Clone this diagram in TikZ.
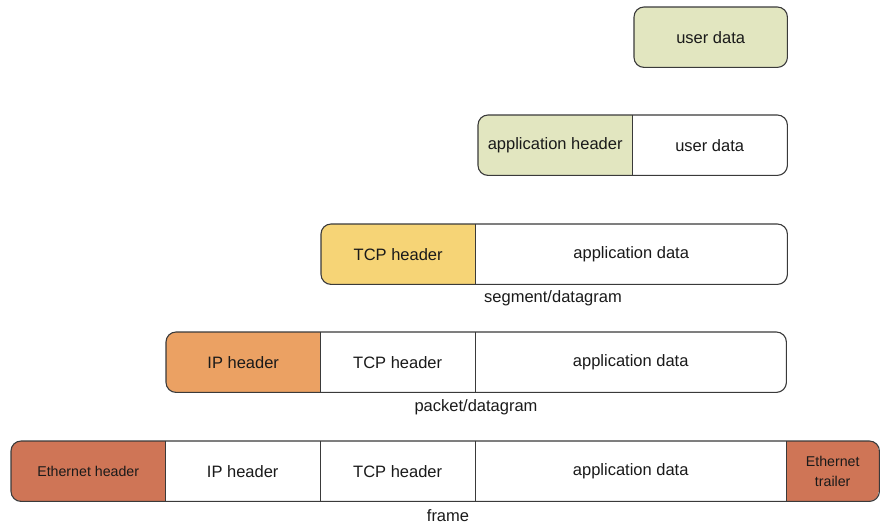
\documentclass[tikz,border=0pt]{standalone}
\usepackage{fontspec}
\setmainfont{Liberation Sans}
\definecolor{ugreen}{HTML}{E2E6C0}
\definecolor{tcpy}{HTML}{F6D476}
\definecolor{ipo}{HTML}{EBA163}
\definecolor{ethc}{HTML}{CF7556}
\definecolor{edge}{HTML}{3A3A3A}
\definecolor{txt}{HTML}{1A1A1A}
\begin{document}
\begin{tikzpicture}[x=1pt,y=-1pt,
  cell/.style={minimum height=60pt, inner sep=0pt, anchor=north west, text=txt,
    font=\fontsize{16.5}{19}\selectfont},
  small/.style={font=\fontsize{14.2}{20}\selectfont, align=center},
  outline/.style={draw=edge, line width=1.1pt, rounded corners=10pt},
  divider/.style={draw=edge, line width=1pt},
  caption/.style={text=txt, font=\fontsize{16.5}{19}\selectfont, inner sep=0pt}]
\useasboundingbox (0,0) rectangle (880,531);

% Row 1
\begin{scope}
\clip[rounded corners=10pt] (634,7) rectangle (787,67);
\node[cell, fill=ugreen, minimum width=153pt] (a1) at (634,7) {user data};
\end{scope}
\draw[outline] (a1.north west) rectangle (a1.south east);

% Row 2
\begin{scope}
\clip[rounded corners=10pt] (478,115) rectangle (787,175);
\node[cell, fill=ugreen, minimum width=154pt] (b1) at (478,115) {application header};
\node[cell, fill=white, minimum width=155pt] (b2) at (632,115) {user data};
\end{scope}
\draw[outline] (b1.north west) rectangle (b2.south east);
\draw[divider] (b1.north east) -- (b1.south east);

% Row 3
\begin{scope}
\clip[rounded corners=10pt] (321,224) rectangle (787,284);
\node[cell, fill=tcpy, minimum width=154pt] (c1) at (321,224) {TCP header};
\node[cell, fill=white, minimum width=312pt] (c2) at (475,224) {application data};
\end{scope}
\draw[outline] (c1.north west) rectangle (c2.south east);
\draw[divider] (c1.north east) -- (c1.south east);
\node[caption] (lc) at (553,298) {segment/datagram};

% Row 4
\begin{scope}
\clip[rounded corners=10pt] (166,332) rectangle (786,392);
\node[cell, fill=ipo, minimum width=154pt] (d1) at (166,332) {IP header};
\node[cell, fill=white, minimum width=155pt] (d2) at (320,332) {TCP header};
\node[cell, fill=white, minimum width=311pt] (d3) at (475,332) {application data};
\end{scope}
\draw[outline] (d1.north west) rectangle (d3.south east);
\draw[divider] (d1.north east) -- (d1.south east);
\draw[divider] (d2.north east) -- (d2.south east);
\node[caption] (ld) at (476,407) {packet/datagram};

% Row 5
\begin{scope}
\clip[rounded corners=10pt] (11,441) rectangle (879,501);
\node[cell, small, fill=ethc, minimum width=154pt] (e1) at (11,441) {Ethernet header};
\node[cell, fill=white, minimum width=155pt] (e2) at (165,441) {IP header};
\node[cell, fill=white, minimum width=155pt] (e3) at (320,441) {TCP header};
\node[cell, fill=white, minimum width=311pt] (e4) at (475,441) {application data};
\node[cell, small, fill=ethc, minimum width=93pt] (e5) at (786,441) {Ethernet\\trailer};
\end{scope}
\draw[outline] (e1.north west) rectangle (e5.south east);
\draw[divider] (e1.north east) -- (e1.south east);
\draw[divider] (e2.north east) -- (e2.south east);
\draw[divider] (e3.north east) -- (e3.south east);
\draw[divider] (e4.north east) -- (e4.south east);
\node[caption] (le) at (448,516) {frame};
\end{tikzpicture}
\end{document}
